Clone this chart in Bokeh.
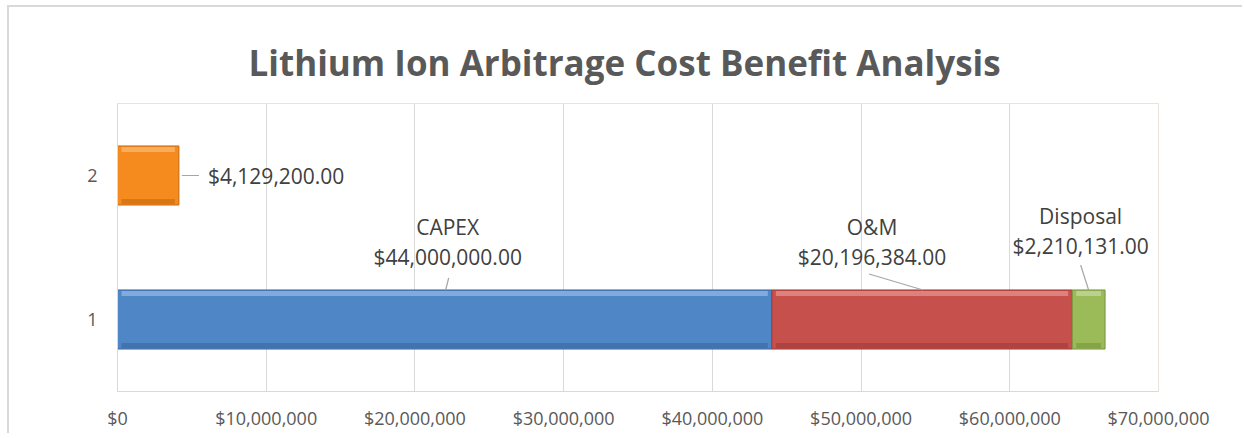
from bokeh.plotting import figure
from bokeh.models import NumeralTickFormatter, FixedTicker, Range1d
from bokeh.core.properties import value
from bokeh.embed import file_html
from bokeh.resources import INLINE

# ---- data ----
categories = ["1", "2"]
cat_pos = [1, 2]
segment_names = ["CAPEX", "O&M", "Disposal"]
segment_values = [44000000, 20196384, 2210131]          # category 1
segment_colors = ["#4F86C6", "#C6504C", "#9BBB59"]
segment_light = ["#8DB4E2", "#E38C89", "#C3D69B"]
segment_dark = ["#3A679E", "#9E3B37", "#76923C"]
cat2_values = [4129200]                                  # category 2
cat2_color = "#F58A1F"
cat2_light = "#FAB46C"
cat2_dark = "#C56A10"
x_ticks = [0, 10000000, 20000000, 30000000, 40000000, 50000000, 60000000, 70000000]
title_text = "Lithium Ion Arbitrage Cost Benefit Analysis"

OX, OY = 9, 7   # where the canvas starts on the page (margin + border)
W, H = 1235, 428
L, T = 117 - OX, 103 - OY
R = W - (1158 - OX)
B = H - (391 - OY)
X0, X1 = 0, 70000000
Y0, Y1 = 0.5, 2.5
px_x = (W - L - R) / (X1 - X0)
px_y = (H - T - B) / (Y1 - Y0)
bar_h = 0.41

p = figure(width=W, height=H, output_backend="svg", toolbar_location=None,
           x_range=Range1d(X0, X1), y_range=Range1d(Y0, Y1),
           min_border_left=L, min_border_right=R, min_border_top=T, min_border_bottom=B,
           styles={"border-left": "2px solid #d9d9d9", "border-top": "2px solid #d9d9d9",
                   "margin-left": "7px", "margin-top": "5px"})
p.outline_line_color = "#E8E4DA"
p.background_fill_color = "white"
p.border_fill_color = "white"

# title
p.title.text = title_text
p.title.align = "left"
p.title.vertical_align = "top"
p.title.offset = 131
p.title.standoff = 32
p.title.text_font = "Open Sans"
p.title.text_font_style = "bold"
p.title.text_font_size = "35px"
p.title.text_color = "#595959"

font = value("Open Sans")
lab_col = "#404040"
lab_size = "21px"

# axes
p.xaxis.ticker = FixedTicker(ticks=x_ticks)
p.xaxis.formatter = NumeralTickFormatter(format="$0,0")
p.xaxis.major_label_text_font = "Open Sans"
p.xaxis.major_label_text_font_size = "18px"
p.xaxis.major_label_text_color = "#595959"
p.xaxis.axis_line_color = "#D9D9D9"
p.xaxis.major_tick_line_color = None
p.xaxis.minor_tick_line_color = None
p.xaxis.major_label_standoff = 8

p.yaxis.ticker = FixedTicker(ticks=cat_pos)
p.yaxis.major_label_overrides = {c: s for c, s in zip(cat_pos, categories)}
p.yaxis.major_label_text_font = "Open Sans"
p.yaxis.major_label_text_font_size = "18px"
p.yaxis.major_label_text_color = "#595959"
p.yaxis.axis_line_color = "#D9D9D9"
p.yaxis.major_tick_line_color = None
p.yaxis.minor_tick_line_color = None
p.yaxis.major_label_standoff = 14

p.xgrid.grid_line_color = "#D9D9D9"
p.ygrid.grid_line_color = None

def bevel_bar(left, right, y, col, light, dark):
    p.hbar(y=[y], left=[left], right=[right], height=bar_h, fill_color=col, line_color=dark, line_width=1)
    edge = 5 / px_y
    p.hbar(y=[y + bar_h / 2 - edge / 2 - 1 / px_y], left=[left + 4 / px_x], right=[right - 4 / px_x],
           height=edge, fill_color=light, line_color=None, fill_alpha=0.8)
    p.hbar(y=[y - bar_h / 2 + edge / 2 + 1 / px_y], left=[left + 4 / px_x], right=[right - 4 / px_x],
           height=edge, fill_color=dark, line_color=None, fill_alpha=0.6)

# category 1 stacked
starts = []
acc = 0
for v in segment_values:
    starts.append(acc)
    acc += v
for s, v, c, lc, dc in zip(starts, segment_values, segment_colors, segment_light, segment_dark):
    bevel_bar(s, s + v, cat_pos[0], c, lc, dc)

# category 2
bevel_bar(0, cat2_values[0], cat_pos[1], cat2_color, cat2_light, cat2_dark)

# data labels for category 1
top = cat_pos[0] + bar_h / 2
lbl_dx = [3, -50, -8]         # px shift of label centre
lbl_dy = [-63, -63, -74]      # px from bar top to name line
lead = [(1, 0, 4, -12), (1, 0, -53, -16), (0, 0, -8, -25)]
for s, v, nm, dx, dy, ld in zip(starts, segment_values, segment_names, lbl_dx, lbl_dy, lead):
    c = s + v / 2
    p.text(x=[c], y=[top], text=[nm], x_offset=dx, y_offset=dy, text_align="center",
           text_baseline="middle", text_font=font, text_font_size=lab_size, text_color=lab_col)
    p.text(x=[c], y=[top], text=[f"${v:,.2f}"], x_offset=dx, y_offset=dy + 30, text_align="center",
           text_baseline="middle", text_font=font, text_font_size=lab_size, text_color=lab_col)
    p.segment(x0=[c + ld[0] / px_x], y0=[top + ld[1] / px_y], x1=[c + ld[2] / px_x], y1=[top - ld[3] / px_y],
              line_color="#A6A6A6", line_width=1.2)

# data label for category 2
v2 = cat2_values[0]
p.segment(x0=[v2 + 3 / px_x], y0=[cat_pos[1]], x1=[v2 + 20 / px_x], y1=[cat_pos[1]],
          line_color="#A6A6A6", line_width=1.2)
p.text(x=[v2], y=[cat_pos[1]], text=[f"${v2:,.2f}"], x_offset=29, text_align="left",
       text_baseline="middle", text_font=font, text_font_size=lab_size, text_color=lab_col)

open("out.html", "w").write(file_html(p, INLINE))
